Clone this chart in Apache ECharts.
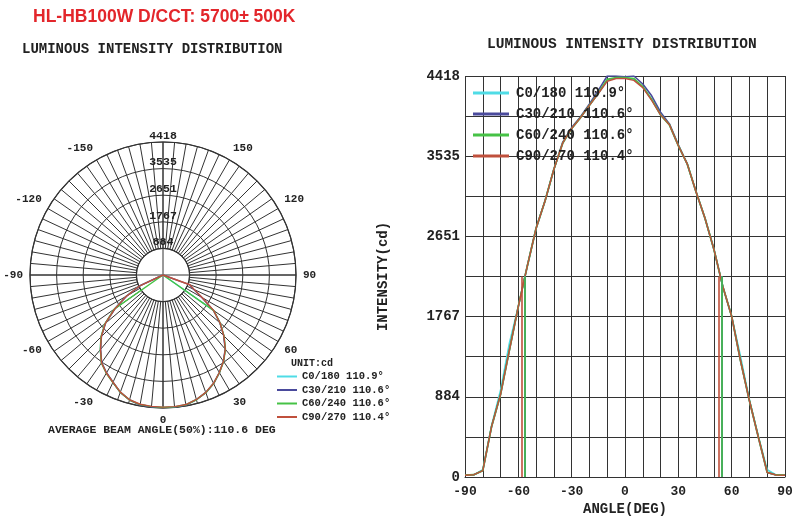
<!DOCTYPE html>
<html>
<head>
<meta charset="utf-8">
<script src="https://cdn.jsdelivr.net/npm/echarts@6/dist/echarts.min.js"></script>
<style>html,body{margin:0;padding:0;background:#fff;}#c{width:800px;height:529px;}</style>
</head>
<body>
<div id="c"></div>
<script>
// ---------- data ----------
const seriesNames = ['C0/180 110.9°', 'C30/210 110.6°', 'C60/240 110.6°', 'C90/270 110.4°'];

// Cartesian curves (right chart): angle in degrees, intensity in cd
const angles = [-90,-85,-80,-75,-70,-65,-60,-55,-50,-45,-40,-35,-30,-25,-20,-15,-10,-5,0,5,10,15,20,25,30,35,40,45,50,55,60,65,70,75,80,85,90];
const c0Values  = [20,25,80,570,960,1480,1880,2320,2740,3040,3390,3680,3840,3960,4095,4225,4370,4395,4395,4380,4300,4160,3990,3880,3650,3450,3140,2850,2510,2100,1770,1330,850,450,80,22,20];
const c30Values = [20,25,70,560,910,1400,1880,2320,2740,3040,3390,3690,3850,3970,4110,4260,4418,4418,4410,4418,4330,4200,4020,3890,3660,3450,3140,2850,2510,2100,1770,1280,840,440,50,22,20];
const c60Values = [20,25,70,560,910,1400,1880,2320,2740,3040,3390,3680,3840,3960,4095,4230,4380,4400,4400,4390,4300,4160,3990,3880,3650,3450,3140,2850,2510,2100,1770,1280,840,440,50,22,20];
const c90Values = [20,25,70,560,910,1400,1880,2320,2740,3040,3390,3680,3840,3960,4095,4225,4360,4390,4390,4370,4290,4150,3990,3880,3650,3450,3140,2850,2510,2100,1770,1280,840,440,50,22,20];

// beam edges (50% of max) per series
const beamLeft  = [-56.4, -56.3, -56.3, -57.9];
const beamRight = [54.5, 54.3, 54.3, 52.5];
const halfMax = 2209;

// Polar curves (left chart): gamma angle vs intensity
const polarAngles = [-75,-70,-65,-60,-55,-50,-45,-40,-35,-30,-25,-20,-15,-10,-5,0,5,10,15,20,25,30,35,40,45,50,55,60,65,70,75];
const polarC0  = [0,0,860,1420,1960,2510,2910,3240,3560,3760,3930,4140,4290,4370,4390,4400,4400,4370,4280,4150,3970,3740,3500,3220,2860,2470,2050,0,0,0,0];
const polarC30 = [0,0,820,1380,1940,2490,2890,3220,3550,3750,3930,4150,4300,4390,4410,4418,4418,4400,4290,4160,3980,3750,3500,3210,2850,2460,2040,1480,1120,930,0];
const polarC60 = [0,0,0,0,1980,2520,2920,3240,3570,3770,3940,4150,4300,4370,4390,4400,4400,4380,4290,4160,3980,3750,3510,3230,2870,2480,2060,0,0,0,0];
const polarC90 = [0,0,850,1400,1950,2500,2900,3230,3560,3760,3930,4140,4290,4360,4380,4390,4390,4370,4280,4150,3970,3740,3500,3220,2860,2470,2050,1500,1150,950,0];

// tick labels
const intensityMax = 4418;
const ringLabels = ['', '884', '1767', '2651', '3535', '4418'];
const yTickLabels = ['0', '884', '1767', '2651', '3535', '4418'];

// ---------- chart ----------
const colors = ['#4fdce6', '#4a4a9c', '#46c246', '#c0503c'];
const lineW = [1.5, 1.6, 1.8, 1.4];
const mono = "'Liberation Mono', 'DejaVu Sans Mono', monospace";
const ringStep = intensityMax / 5;
const gridStep = intensityMax / 10;

const cartValues = [c0Values, c30Values, c60Values, c90Values];
const polarValues = [polarC0, polarC30, polarC60, polarC90];

const series = [];
seriesNames.forEach((name, i) => {
  series.push({
    name: name,
    type: 'line',
    xAxisIndex: 0, yAxisIndex: 0,
    data: angles.map((a, k) => [a, cartValues[i][k]]),
    showSymbol: false, symbol: 'none', silent: true,
    lineStyle: { color: colors[i], width: lineW[i] },
    itemStyle: { color: colors[i] },
    animation: false,
    markLine: {
      silent: true, symbol: ['none', 'none'], label: { show: false },
      lineStyle: { color: colors[i], width: 1.6, type: 'solid' },
      animation: false,
      data: [
        [{ coord: [beamLeft[i], 0] }, { coord: [beamLeft[i], halfMax] }],
        [{ coord: [beamRight[i], 0] }, { coord: [beamRight[i], halfMax] }]
      ]
    }
  });
});
seriesNames.forEach((name, i) => {
  series.push({
    name: name,
    type: 'line',
    coordinateSystem: 'polar',
    polarIndex: 1,
    data: polarAngles.map((a, k) => [polarValues[i][k], a]),
    showSymbol: false, symbol: 'none', silent: true,
    lineStyle: { color: colors[i], width: 1.4 },
    itemStyle: { color: colors[i] },
    animation: false
  });
});

const gridColor = '#333';
const option = {
  animation: false,
  backgroundColor: '#fff',
  title: [
    { text: 'HL-HB100W D/CCT: 5700± 500K', left: 33, top: 8, padding: 0,
      textStyle: { color: '#e3262b', fontSize: 17.5, fontWeight: 'bold', fontFamily: "'Liberation Sans', 'Open Sans', sans-serif" } },
    { text: 'LUMINOUS INTENSITY DISTRIBUTION', left: 22, top: 42, padding: 0,
      textStyle: { color: '#222', fontSize: 14, fontWeight: 'bold', fontFamily: mono } },
    { text: 'LUMINOUS INTENSITY DISTRIBUTION', left: 487, top: 37, padding: 0,
      textStyle: { color: '#222', fontSize: 14.5, fontWeight: 'bold', fontFamily: mono } },
    { text: 'AVERAGE BEAM ANGLE(50%):110.6 DEG', left: 48, top: 424, padding: 0,
      textStyle: { color: '#222', fontSize: 11.5, fontWeight: 'bold', fontFamily: mono } },
    { text: 'UNIT:cd', left: 291, top: 358, padding: 0,
      textStyle: { color: '#222', fontSize: 10, fontWeight: 'bold', fontFamily: mono } }
  ],
  legend: [
    { data: seriesNames, orient: 'vertical', left: 473, top: 86, padding: 0,
      itemGap: 7, itemWidth: 36, itemHeight: 3, icon: 'rect', selectedMode: false,
      textStyle: { color: '#222', fontSize: 14, fontWeight: 'bold', fontFamily: mono, padding: [0, 0, 0, 2] } },
    { data: seriesNames, orient: 'vertical', left: 277, top: 371, padding: 0,
      itemGap: 2.5, itemWidth: 20, itemHeight: 2, icon: 'rect', selectedMode: false,
      textStyle: { color: '#222', fontSize: 10.5, fontWeight: 'bold', fontFamily: mono, padding: [0, 0, 0, 0] } }
  ],
  grid: { left: 465, right: 15, top: 76, bottom: 52, containLabel: false },
  xAxis: {
    type: 'value', min: -90, max: 90, interval: 10,
    name: 'ANGLE(DEG)', nameLocation: 'middle', nameGap: 24,
    nameTextStyle: { color: '#222', fontSize: 14, fontWeight: 'bold', fontFamily: mono },
    axisLine: { show: true, lineStyle: { color: gridColor } },
    axisTick: { show: false },
    axisLabel: { color: '#222', fontSize: 13, fontWeight: 'bold', fontFamily: mono, margin: 8,
      formatter: v => (Math.round(v) % 30 === 0 ? String(Math.round(v)) : '') },
    splitLine: { show: true, lineStyle: { color: gridColor, width: 1 } }
  },
  yAxis: {
    type: 'value', min: 0, max: intensityMax, interval: gridStep,
    name: 'INTENSITY(cd)', nameLocation: 'middle', nameGap: 75, nameRotate: 90,
    nameTextStyle: { color: '#222', fontSize: 14, fontWeight: 'bold', fontFamily: mono },
    axisLine: { show: true, lineStyle: { color: gridColor } },
    axisTick: { show: false },
    axisLabel: { color: '#222', fontSize: 14, fontWeight: 'bold', fontFamily: mono, margin: 5,
      formatter: v => { const i = Math.round(v / gridStep); return i % 2 === 0 ? yTickLabels[i / 2] : ''; } },
    splitLine: { show: true, lineStyle: { color: gridColor, width: 1 } }
  },
  polar: [
    { center: [163, 275], radius: [133 * ringStep / intensityMax, 133] },
    { center: [163, 275], radius: 133 }
  ],
  angleAxis: [
    { polarIndex: 0, type: 'value', min: -180, max: 180, interval: 5, startAngle: 90, clockwise: false,
      axisLine: { show: true, lineStyle: { color: gridColor, width: 1.2 } },
      axisTick: { show: false },
      axisLabel: { color: '#222', fontSize: 11, fontWeight: 'bold', fontFamily: mono, margin: 7,
        formatter: v => (v % 30 === 0 && Math.abs(v) !== 180 ? String(v) : '') },
      splitLine: { show: true, lineStyle: { color: gridColor, width: 1 } } },
    { polarIndex: 1, type: 'value', min: -180, max: 180, interval: 90, startAngle: 90, clockwise: false,
      axisLine: { show: false }, axisTick: { show: false }, axisLabel: { show: false },
      splitLine: { show: true, lineStyle: { color: gridColor, width: 1 } } }
  ],
  radiusAxis: [
    { polarIndex: 0, type: 'value', min: ringStep, max: intensityMax,
      axisLine: { show: false }, axisTick: { show: false }, axisLabel: { show: false }, splitLine: { show: false } },
    { polarIndex: 1, type: 'value', min: 0, max: intensityMax, interval: ringStep,
      axisLine: { show: false }, axisTick: { show: false },
      axisLabel: { color: '#222', fontSize: 11.5, fontWeight: 'bold', fontFamily: mono, margin: 0,
        align: 'center', verticalAlign: 'bottom',
        formatter: v => ringLabels[Math.round(v / ringStep)] || '' },
      splitLine: { show: true, lineStyle: { color: gridColor, width: 1 } } }
  ],
  series: series
};

const chart = echarts.init(document.getElementById('c'), null, { renderer: 'canvas' });
chart.setOption(option);
</script>
</body>
</html>
